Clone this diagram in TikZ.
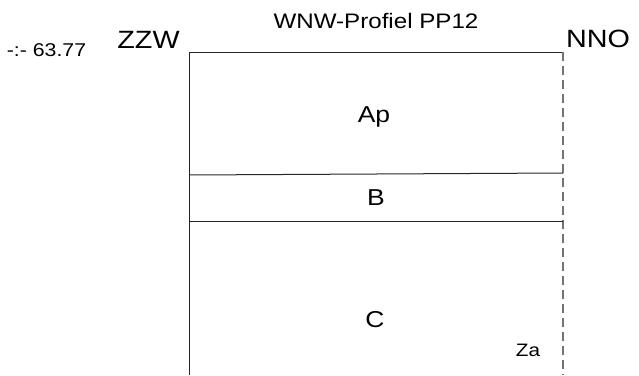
\documentclass[tikz,border=0pt]{standalone}
\usepackage{fontspec}
\setmainfont{Liberation Sans}
\begin{document}
\begin{tikzpicture}[x=1pt,y=-1pt,
  lbl/.style={inner sep=0pt,anchor=base,xscale=1.15,font=\fontsize{23}{27}\selectfont},
  solidline/.style={draw=black!85,line width=1pt},
  dashline/.style={draw=black!55,line width=1.2pt,dash pattern=on 9pt off 5pt}]
\useasboundingbox (0,0) rectangle (639,375);
\coordinate (tl) at (189,52);
\coordinate (tr) at (563,52);
\coordinate (bl) at (189,375);
\coordinate (br) at (563,375);
\coordinate (l1) at (189,175);
\coordinate (r1) at (563,173);
\coordinate (l2) at (189,221);
\coordinate (r2) at (563,221);
\draw[solidline] (bl) -- (tl) -- (tr) -- ++(0,8);
\draw[dashline] (tr) -- (br);
\draw[solidline] (l1) -- (r1);
\draw[solidline] (l2) -- (r2);
\node[lbl,font=\fontsize{21}{25}\selectfont] (title) at (376,28) {WNW-Profiel PP12};
\node[lbl,font=\fontsize{25}{30}\selectfont] (zzw) at (148.5,48) {ZZW};
\node[lbl,font=\fontsize{25}{30}\selectfont] (nno) at (598,47) {NNO};
\node[lbl,font=\fontsize{18.5}{22}\selectfont] (elev) at (46.5,56) {-:- 63.77};
\node[lbl] (ap) at (374,122) {Ap};
\node[lbl] (b) at (376,205) {B};
\node[lbl] (c) at (375,327) {C};
\node[lbl,font=\fontsize{18}{22}\selectfont] (za) at (528,356) {Za};
\end{tikzpicture}
\end{document}
